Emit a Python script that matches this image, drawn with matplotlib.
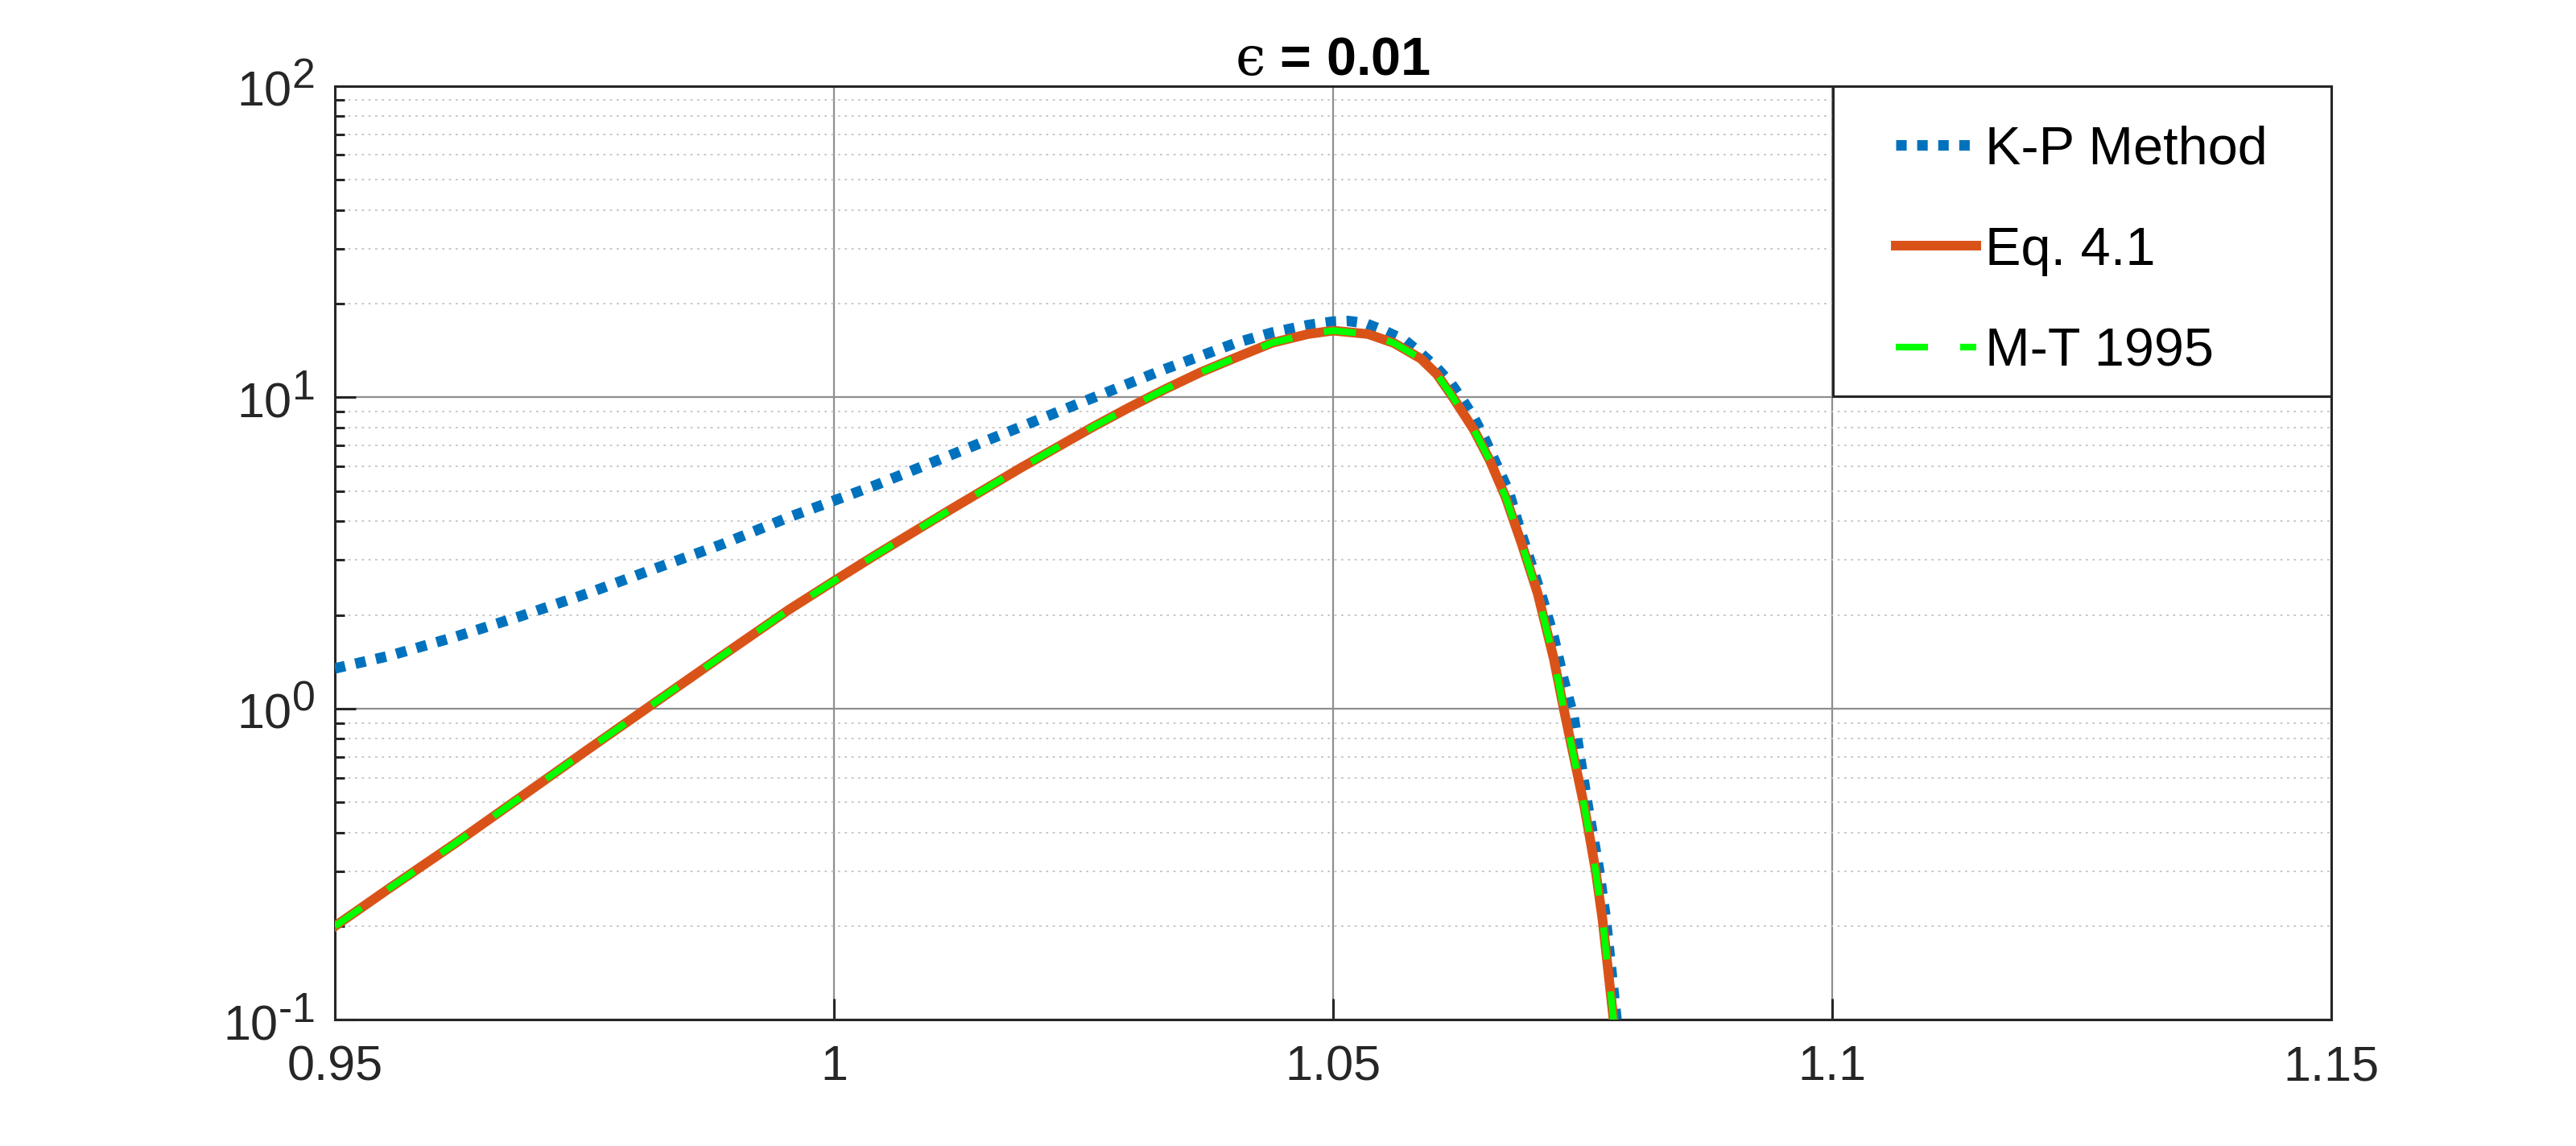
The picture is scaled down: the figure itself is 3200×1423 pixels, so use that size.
import matplotlib
matplotlib.use("Agg")
import matplotlib.pyplot as plt
import matplotlib._mathtext as mathtext_interne
from matplotlib.patches import Rectangle
from matplotlib.ticker import FixedLocator, LogLocator, NullFormatter, FuncFormatter

plt.rcParams['font.family'] = ['Liberation Sans', 'DejaVu Sans']
plt.rcParams['mathtext.fontset'] = 'custom'
plt.rcParams['mathtext.rm'] = 'Liberation Sans'
plt.rcParams['mathtext.it'] = 'DejaVu Serif'
plt.rcParams['mathtext.bf'] = 'Liberation Sans:bold'
plt.rcParams['lines.scale_dashes'] = False
# exposants plus grands, comme MATLAB
mathtext_interne.SHRINK_FACTOR = 0.85

# K-P Method
x_kp = [0.950, 0.9554, 0.962, 0.9687, 0.9754, 0.982, 0.9888, 0.9955, 1.000,
        1.0042, 1.0115, 1.0187, 1.0253, 1.0331, 1.0403, 1.0439, 1.0475, 1.0500,
        1.0515, 1.0532, 1.0552, 1.0572, 1.0589, 1.0604, 1.0618, 1.0630, 1.0641,
        1.0652, 1.0662, 1.0676, 1.0686, 1.0699, 1.0710, 1.0721, 1.0731, 1.0741,
        1.0755, 1.0766, 1.0773, 1.0784, 1.0788]
y_kp = [1.346, 1.476, 1.698, 1.986, 2.350, 2.812, 3.373, 4.121, 4.656,
        5.224, 6.486, 8.035, 9.772, 12.30, 14.96, 16.14, 17.06, 17.50,
        17.58, 17.30, 16.33, 15.24, 13.74, 12.42, 11.09, 9.77, 8.61,
        7.35, 6.25, 4.98, 3.87, 2.88, 2.24, 1.70, 1.236, 0.94,
        0.490, 0.309, 0.214, 0.10, 0.08]

# Eq. 4.1
x_eq = [0.950, 0.9554, 0.962, 0.9687, 0.9754, 0.982, 0.9888, 0.9955, 1.000,
        1.0042, 1.0115, 1.0187, 1.0259, 1.0295, 1.0331, 1.0367, 1.0403, 1.0439,
        1.0475, 1.0500, 1.0535, 1.0561, 1.0588, 1.0604, 1.0620, 1.0641, 1.0657,
        1.0673, 1.0689, 1.0705, 1.0721, 1.0731, 1.0752, 1.0763, 1.0770, 1.0781,
        1.0785]
y_eq = [0.200, 0.264, 0.368, 0.522, 0.741, 1.042, 1.479, 2.080, 2.570,
        3.119, 4.325, 5.929, 8.017, 9.247, 10.59, 12.02, 13.43, 14.96,
        15.96, 16.37, 15.96, 14.93, 13.30, 11.86, 10.0, 7.87, 6.27,
        4.76, 3.38, 2.34, 1.45, 1.0, 0.479, 0.302, 0.209, 0.10,
        0.08]

# M-T 1995 : confondu avec Eq. 4.1 sur la figure
x_mt = list(x_eq)
y_mt = list(y_eq)

x_ticks = [0.95, 1.0, 1.05, 1.1, 1.15]
x_tick_labels = ['0.95', '1', '1.05', '1.1', '1.15']
y_ticks = [0.1, 1, 10, 100]
y_exposants = {0.1: r'\text{-}1', 1: '0', 10: '1', 100: '2'}


def etiquette_log(v, pos):
    for t, e in y_exposants.items():
        if abs(v - t) < 1e-9 * t:
            return r'$\mathregular{10^{%s}}$' % e
    return ''


fig = plt.figure(figsize=(16, 7.115), dpi=200)
ax = fig.add_axes([0.13, 0.11, 0.775, 0.815])

ax.plot(x_kp, y_kp, color='#0072BD', lw=4.7, linestyle=(0, (4.7, 4.7)),
        dash_capstyle='butt', label='K-P Method', zorder=3)
ax.plot(x_eq, y_eq, color='#D95319', lw=4.3, label='Eq. 4.1', zorder=4)
ax.plot(x_mt, y_mt, color='#00FF00', lw=3.0, linestyle=(0, (14.4, 14.4)),
        dash_capstyle='butt', label='M-T 1995', zorder=5)

ax.set_yscale('log')
ax.set_xlim(0.95, 1.15)
ax.set_ylim(0.1, 100)

ax.xaxis.set_major_locator(FixedLocator(x_ticks))
ax.set_xticklabels(x_tick_labels)
ax.yaxis.set_major_locator(FixedLocator(y_ticks))
ax.yaxis.set_major_formatter(FuncFormatter(etiquette_log))
ax.yaxis.set_minor_locator(LogLocator(base=10, subs=range(2, 10)))
ax.yaxis.set_minor_formatter(NullFormatter())

ax.set_axisbelow(True)
ax.grid(True, which='major', color='#8f8f8f', lw=0.8, linestyle='-')
ax.yaxis.grid(True, which='minor', color='#c8c8c8', lw=0.7, linestyle=(0, (1, 2)))

for s in ax.spines.values():
    s.set_color('#262626')
    s.set_linewidth(1.1)
ax.tick_params(which='major', direction='in', length=9.4, width=1.1,
               color='#262626', labelsize=22, labelcolor='#262626')
ax.tick_params(which='minor', direction='in', length=4.3, width=1.1, color='#262626')
ax.tick_params(axis='x', pad=11)
ax.tick_params(axis='y', pad=9)

ax.set_title('$\u03f5$ = 0.01', fontsize=24, fontweight='bold', pad=4)

# cadre de la légende façon MATLAB
cadre = Rectangle((0.7504, 0.6675), 0.2496, 0.3325, transform=ax.transAxes,
                  facecolor='white', edgecolor='#262626', lw=1.1, zorder=6, clip_on=False)
ax.add_patch(cadre)
leg = ax.legend(loc='upper left', bbox_to_anchor=(0.782, 0.958), borderaxespad=0,
                borderpad=0, frameon=False, fontsize=24, labelspacing=0.95,
                handlelength=1.5, handletextpad=0.16)
leg.set_zorder(7)

fig.savefig('out.png', dpi=200)
